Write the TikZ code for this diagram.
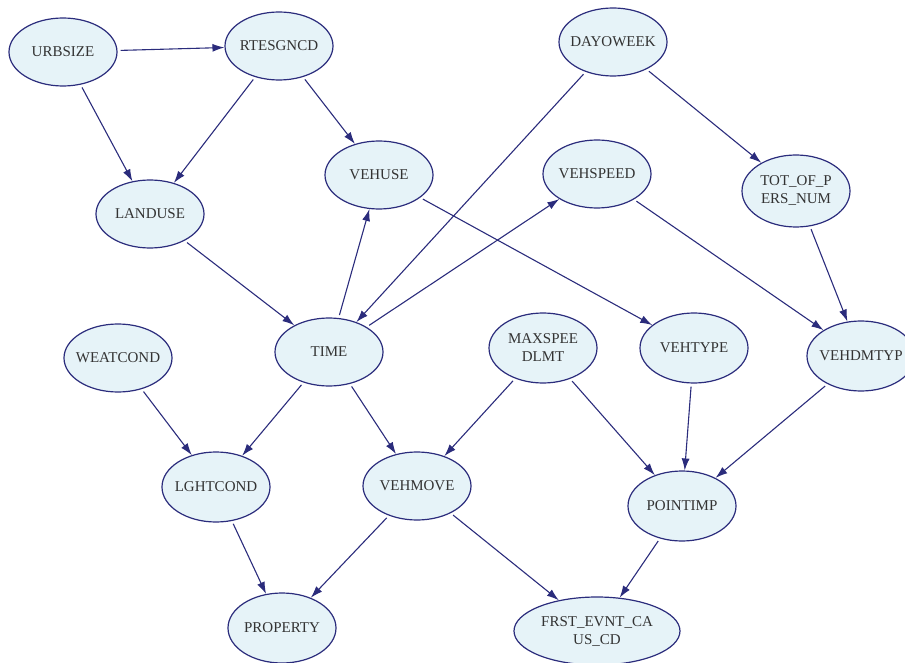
\documentclass[tikz,border=0pt]{standalone}
\usepackage{fontspec}
\setmainfont{Liberation Serif}
\usetikzlibrary{arrows.meta,shapes.geometric}
\definecolor{navy}{HTML}{2B2C7C}
\definecolor{nodefill}{HTML}{E6F3F8}
\definecolor{labeltext}{HTML}{333333}

\begin{document}
\begin{tikzpicture}[x=1pt,y=-1pt,
  var/.style={ellipse,draw=navy,fill=nodefill,line width=1.2pt,
    minimum width=108pt,minimum height=68pt,inner xsep=-9pt,inner ysep=0pt,
    text=labeltext,font=\fontsize{15}{18}\selectfont,align=center},
  dep/.style={draw=navy,line width=1.1pt,-{Latex[length=12pt,width=8pt]},shorten <=3pt}]
  \useasboundingbox (0,0) rectangle (905,663);
  \clip (0,0) rectangle (905,663);
  % top row
  \node[var] (urbsize) at (63,52) {URBSIZE};
  \node[var] (rtesgncd) at (279,46) {RTESGNCD};
  \node[var] (dayoweek) at (613,42) {DAYOWEEK};
  % second row
  \node[var] (landuse) at (150,214) {LANDUSE};
  \node[var] (vehuse) at (379,175) {VEHUSE};
  \node[var] (vehspeed) at (597,174) {VEHSPEED};
  \node[var,minimum height=72pt] (totpers) at (796,191) {TOT\_OF\_P\\ERS\_NUM};
  % middle row
  \node[var] (weatcond) at (118,358) {WEATCOND};
  \node[var] (time) at (329,352) {TIME};
  \node[var,minimum height=70pt] (maxspeed) at (543,348) {MAXSPEE\\DLMT};
  \node[var,minimum height=70pt] (vehtype) at (694,348) {VEHTYPE};
  \node[var,minimum height=70pt] (vehdmtyp) at (861,356) {VEHDMTYP};
  % lower rows
  \node[var,minimum height=70pt] (lghtcond) at (216,487) {LGHTCOND};
  \node[var] (vehmove) at (417,486) {VEHMOVE};
  \node[var,minimum height=70pt] (pointimp) at (682,506) {POINTIMP};
  \node[var,minimum height=70pt] (property) at (282,628) {PROPERTY};
  \node[var,minimum width=166pt,minimum height=68pt] (frstevnt) at (597,631) {FRST\_EVNT\_CA\\US\_CD};
  % edges
  \draw[dep] (urbsize) -- (rtesgncd);
  \draw[dep] (urbsize) -- (landuse);
  \draw[dep] (rtesgncd) -- (landuse);
  \draw[dep] (rtesgncd) -- (vehuse);
  \draw[dep] (dayoweek) -- (time);
  \draw[dep] (dayoweek) -- (totpers);
  \draw[dep] (landuse) -- (time);
  \draw[dep] (time) -- (vehuse);
  \draw[dep] (time) -- (vehspeed);
  \draw[dep] (vehuse) -- (vehtype);
  \draw[dep] (vehspeed) -- (vehdmtyp);
  \draw[dep] (totpers) -- (vehdmtyp);
  \draw[dep] (weatcond) -- (lghtcond);
  \draw[dep] (time) -- (lghtcond);
  \draw[dep] (time) -- (vehmove);
  \draw[dep] (maxspeed) -- (vehmove);
  \draw[dep] (maxspeed) -- (pointimp);
  \draw[dep] (vehtype) -- (pointimp);
  \draw[dep] (vehdmtyp) -- (pointimp);
  \draw[dep] (lghtcond) -- (property);
  \draw[dep] (vehmove) -- (property);
  \draw[dep] (vehmove) -- (frstevnt);
  \draw[dep] (pointimp) -- (frstevnt);
\end{tikzpicture}
\end{document}
